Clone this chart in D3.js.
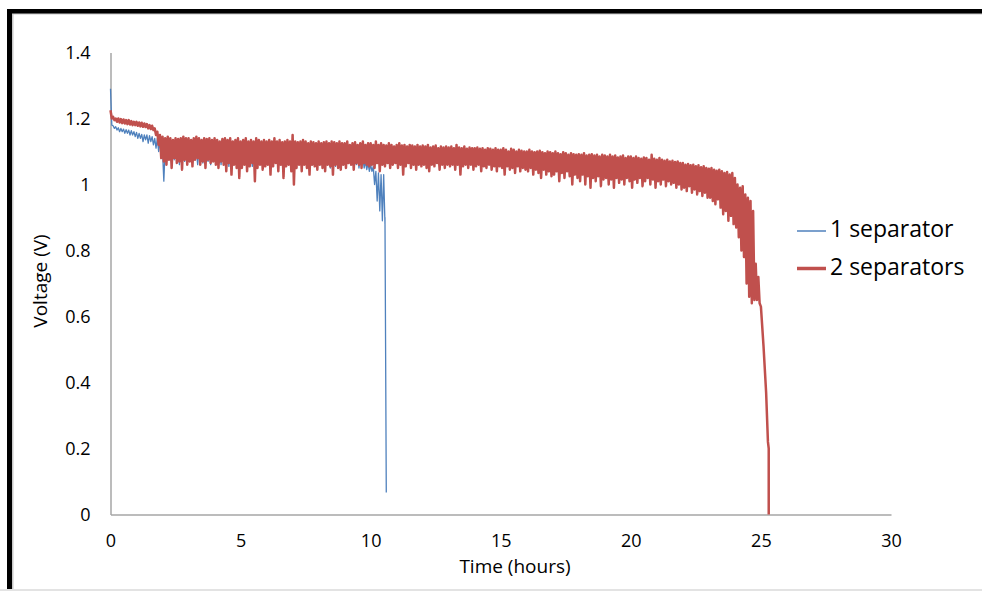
<!DOCTYPE html>
<html lang="en">
<head>
<meta charset="UTF-8">
<title>Voltage vs time</title>
<script src="https://d3js.org/d3.v7.min.js"></script>
<style>
  body { margin: 0; background: #fff; }
  svg { display: block; font-family: "Open Sans", sans-serif; }
</style>
</head>
<body>
<div id="chart"></div>
<script>
// ---- data ----
// every 0.1 h the trace swings between a high and a low reading (V)
const sampleStep = 0.1;

// 1 separator, t = 0.0 .. 10.5
const blueHigh = [
  1.29, 1.178, 1.175, 1.172, 1.17, 1.168, 1.166, 1.165, 1.163, 1.16,
  1.158, 1.155, 1.152, 1.15, 1.15, 1.148, 1.145, 1.14, 1.14, 1.13,
  1.10, 1.11, 1.105, 1.11, 1.10, 1.108, 1.105, 1.11, 1.10, 1.105,
  1.105, 1.11, 1.10, 1.108, 1.105, 1.11, 1.10, 1.105, 1.108, 1.10,
  1.105, 1.10, 1.108, 1.104, 1.10, 1.106, 1.10, 1.104, 1.10, 1.105,
  1.10, 1.105, 1.10, 1.098, 1.104, 1.10, 1.105, 1.10, 1.098, 1.102,
  1.10, 1.098, 1.104, 1.10, 1.097, 1.10, 1.102, 1.098, 1.10, 1.096,
  1.098, 1.10, 1.095, 1.098, 1.10, 1.094, 1.098, 1.095, 1.10, 1.096,
  1.095, 1.098, 1.094, 1.096, 1.092, 1.095, 1.098, 1.09, 1.094, 1.092,
  1.09, 1.085, 1.09, 1.08, 1.085, 1.08, 1.075, 1.08, 1.07, 1.065,
  1.06, 1.055, 1.04, 1.035, 1.03, 1.03
];
const blueLow = [
  1.18, 1.17, 1.165, 1.16, 1.16, 1.155, 1.155, 1.15, 1.15, 1.145,
  1.14, 1.14, 1.13, 1.135, 1.125, 1.13, 1.12, 1.11, 1.10, 1.09,
  1.01, 1.07, 1.08, 1.065, 1.075, 1.07, 1.06, 1.075, 1.07, 1.065,
  1.07, 1.065, 1.075, 1.06, 1.07, 1.065, 1.075, 1.07, 1.06, 1.07,
  1.065, 1.07, 1.06, 1.07, 1.065, 1.055, 1.07, 1.065, 1.06, 1.07,
  1.06, 1.065, 1.07, 1.06, 1.055, 1.065, 1.06, 1.07, 1.06, 1.065,
  1.065, 1.06, 1.055, 1.065, 1.06, 1.07, 1.06, 1.055, 1.065, 1.06,
  1.06, 1.065, 1.06, 1.055, 1.065, 1.06, 1.05, 1.06, 1.065, 1.055,
  1.06, 1.055, 1.065, 1.06, 1.05, 1.06, 1.055, 1.06, 1.05, 1.06,
  1.06, 1.065, 1.06, 1.055, 1.06, 1.05, 1.055, 1.05, 1.045, 1.04,
  1.04, 1.0, 0.95, 0.92, 0.89, 0.88
];
const blueTailTimes = [10.55, 10.6];
const blueTailValues = [0.90, 0.067];

// 2 separators, t = 0.0 .. 24.9
const redHigh = [
  1.225, 1.205, 1.20, 1.20, 1.198, 1.197, 1.195, 1.195, 1.192, 1.19,
  1.19, 1.188, 1.187, 1.185, 1.183, 1.18, 1.178, 1.17, 1.16, 1.15,
  1.145, 1.14, 1.145, 1.14, 1.135, 1.14, 1.138, 1.14, 1.145, 1.14,
  1.14, 1.135, 1.14, 1.145, 1.14, 1.135, 1.14, 1.138, 1.14, 1.135,
  1.14, 1.135, 1.13, 1.138, 1.14, 1.135, 1.14, 1.13, 1.135, 1.14,
  1.13, 1.135, 1.14, 1.13, 1.135, 1.13, 1.14, 1.135, 1.13, 1.135,
  1.13, 1.135, 1.13, 1.14, 1.13, 1.135, 1.128, 1.13, 1.135, 1.13,
  1.15, 1.13, 1.128, 1.13, 1.135, 1.13, 1.125, 1.13, 1.128, 1.125,
  1.13, 1.125, 1.128, 1.13, 1.125, 1.13, 1.128, 1.125, 1.13, 1.125,
  1.125, 1.13, 1.12, 1.125, 1.128, 1.12, 1.125, 1.13, 1.12, 1.125,
  1.125, 1.12, 1.13, 1.12, 1.125, 1.12, 1.118, 1.125, 1.12, 1.115,
  1.12, 1.125, 1.118, 1.12, 1.115, 1.12, 1.118, 1.115, 1.12, 1.115,
  1.118, 1.115, 1.12, 1.112, 1.115, 1.118, 1.11, 1.115, 1.112, 1.115,
  1.112, 1.115, 1.11, 1.12, 1.112, 1.11, 1.115, 1.108, 1.112, 1.11,
  1.11, 1.112, 1.108, 1.11, 1.105, 1.11, 1.108, 1.105, 1.11, 1.105,
  1.105, 1.11, 1.105, 1.10, 1.108, 1.105, 1.10, 1.105, 1.102, 1.10,
  1.10, 1.105, 1.10, 1.098, 1.10, 1.102, 1.098, 1.095, 1.10, 1.098,
  1.095, 1.10, 1.095, 1.092, 1.098, 1.095, 1.09, 1.095, 1.092, 1.09,
  1.092, 1.09, 1.095, 1.088, 1.09, 1.092, 1.088, 1.09, 1.085, 1.09,
  1.088, 1.085, 1.09, 1.085, 1.088, 1.082, 1.085, 1.088, 1.08, 1.085,
  1.085, 1.08, 1.085, 1.08, 1.078, 1.082, 1.08, 1.075, 1.09, 1.078,
  1.075, 1.08, 1.075, 1.072, 1.075, 1.07, 1.072, 1.068, 1.07, 1.065,
  1.065, 1.06, 1.062, 1.058, 1.06, 1.055, 1.058, 1.052, 1.055, 1.05,
  1.048, 1.05, 1.045, 1.042, 1.045, 1.04, 1.035, 1.038, 1.03, 1.035,
  1.02, 1.00, 0.99, 0.995, 0.97, 0.96, 0.95, 0.92, 0.76, 0.72
];
const redLow = [
  1.20, 1.195, 1.19, 1.188, 1.186, 1.185, 1.183, 1.182, 1.18, 1.18,
  1.178, 1.176, 1.175, 1.174, 1.17, 1.168, 1.165, 1.15, 1.12, 1.08,
  1.07, 1.06, 1.075, 1.05, 1.08, 1.065, 1.07, 1.045, 1.075, 1.06,
  1.07, 1.055, 1.075, 1.08, 1.06, 1.07, 1.05, 1.075, 1.065, 1.07,
  1.06, 1.05, 1.07, 1.06, 1.04, 1.065, 1.03, 1.06, 1.05, 1.02,
  1.05, 1.06, 1.04, 1.055, 1.065, 1.01, 1.05, 1.06, 1.045, 1.055,
  1.06, 1.03, 1.055, 1.065, 1.04, 1.06, 1.02, 1.055, 1.06, 1.04,
  1.00, 1.05, 1.06, 1.04, 1.06, 1.05, 1.03, 1.06, 1.055, 1.045,
  1.06, 1.05, 1.04, 1.06, 1.055, 1.03, 1.06, 1.05, 1.045, 1.06,
  1.05, 1.065, 1.06, 1.045, 1.065, 1.06, 1.05, 1.065, 1.06, 1.055,
  1.06, 1.05, 1.065, 1.04, 1.06, 1.055, 1.065, 1.05, 1.06, 1.065,
  1.05, 1.06, 1.03, 1.055, 1.065, 1.05, 1.06, 1.045, 1.06, 1.055,
  1.06, 1.05, 1.04, 1.06, 1.055, 1.065, 1.045, 1.06, 1.05, 1.06,
  1.055, 1.06, 1.045, 1.06, 1.03, 1.055, 1.06, 1.05, 1.06, 1.045,
  1.055, 1.06, 1.04, 1.055, 1.05, 1.06, 1.045, 1.055, 1.04, 1.055,
  1.05, 1.03, 1.055, 1.045, 1.05, 1.035, 1.055, 1.04, 1.05, 1.045,
  1.04, 1.05, 1.03, 1.045, 1.035, 1.02, 1.045, 1.03, 1.04, 1.025,
  1.03, 1.04, 1.01, 1.035, 1.02, 1.04, 1.025, 1.00, 1.03, 1.02,
  1.01, 1.03, 1.00, 1.025, 0.99, 1.02, 1.01, 1.025, 0.995, 1.015,
  1.02, 1.00, 1.015, 0.99, 1.02, 1.005, 1.015, 1.00, 1.02, 1.01,
  0.99, 1.015, 1.005, 1.02, 0.995, 1.01, 1.02, 1.00, 1.015, 0.99,
  1.01, 1.00, 1.015, 0.995, 1.01, 1.00, 1.005, 0.99, 1.00, 0.985,
  0.99, 0.98, 0.995, 0.975, 0.985, 0.97, 0.98, 0.965, 0.975, 0.96,
  0.96, 0.95, 0.94, 0.955, 0.93, 0.91, 0.92, 0.89, 0.905, 0.88,
  0.87, 0.84, 0.80, 0.78, 0.70, 0.66, 0.64, 0.65, 0.65, 0.64
];
const redTailTimes = [25.0, 25.1, 25.2, 25.27, 25.3, 25.3];
const redTailValues = [0.63, 0.51, 0.37, 0.22, 0.20, 0.0];

const xTicks = [0, 5, 10, 15, 20, 25, 30];
const yTicks = [0, 0.2, 0.4, 0.6, 0.8, 1, 1.2, 1.4];
const seriesNames = ["1 separator", "2 separators"];
const seriesColors = ["#4f81bd", "#c0504d"];

// high and low readings in turn, then the final drop
function toPoints(high, low, tailTimes, tailValues) {
  const pts = [];
  high.forEach((h, i) => {
    pts.push({ t: i * sampleStep, v: h });
    pts.push({ t: i * sampleStep + sampleStep / 2, v: low[i] });
  });
  tailTimes.forEach((t, i) => pts.push({ t: t, v: tailValues[i] }));
  return pts;
}
const bluePoints = toPoints(blueHigh, blueLow, blueTailTimes, blueTailValues);
const redPoints = toPoints(redHigh, redLow, redTailTimes, redTailValues);

// ---- drawing ----
const width = 982, height = 591;
const svg = d3.select("#chart").append("svg")
  .attr("width", width)
  .attr("height", height);

// frame around the picture
svg.append("rect").attr("x", 0).attr("y", 589).attr("width", width).attr("height", 2).attr("fill", "#e3e3e3");
svg.append("rect").attr("x", 12).attr("y", 13).attr("width", width).attr("height", 1.5).attr("fill", "#c8c8c8");
svg.append("rect").attr("x", 12).attr("y", 13).attr("width", 1.5).attr("height", 576).attr("fill", "#c8c8c8");
svg.append("rect").attr("x", 7).attr("y", 9).attr("width", width).attr("height", 4.5).attr("fill", "#000");
svg.append("rect").attr("x", 7).attr("y", 9).attr("width", 5).attr("height", 580).attr("fill", "#000");

const x = d3.scaleLinear().domain([0, 30]).range([110.5, 891]);
const y = d3.scaleLinear().domain([0, 1.4]).range([514.5, 52.5]);

// axes
const xAxis = svg.append("g")
  .attr("transform", `translate(0,${y(0)})`)
  .call(d3.axisBottom(x).tickValues(xTicks).tickSize(0).tickPadding(27).tickFormat(d3.format("d")));
const yAxis = svg.append("g")
  .attr("transform", `translate(${x(0)},0)`)
  .call(d3.axisLeft(y).tickValues(yTicks).tickSize(0).tickPadding(20).tickFormat(d => String(d)));

[xAxis, yAxis].forEach(a => {
  a.select(".domain").attr("stroke", "#a6a6a6").attr("stroke-width", 1.5);
  a.selectAll("text").attr("font-size", 18).attr("fill", "#000").attr("font-family", "Open Sans");
});
xAxis.selectAll("text").attr("dy", "0.32em");

// axis titles
svg.append("text")
  .attr("x", 515).attr("y", 568)
  .attr("text-anchor", "middle").attr("dominant-baseline", "middle")
  .attr("font-size", 19)
  .text("Time (hours)");
svg.append("text")
  .attr("transform", "translate(42,281) rotate(-90)")
  .attr("text-anchor", "middle").attr("dominant-baseline", "middle")
  .attr("font-size", 19)
  .text("Voltage (V)");

// series
const line = d3.line().x(d => x(d.t)).y(d => y(d.v));
svg.append("path").datum(bluePoints)
  .attr("d", line).attr("fill", "none")
  .attr("stroke", seriesColors[0]).attr("stroke-width", 1.3)
  .attr("stroke-linejoin", "round");
svg.append("path").datum(redPoints)
  .attr("d", line).attr("fill", "none")
  .attr("stroke", seriesColors[1]).attr("stroke-width", 2.5)
  .attr("stroke-linejoin", "round");

// legend
const legend = svg.append("g").attr("transform", "translate(797,231)");
seriesNames.forEach((name, i) => {
  const g = legend.append("g").attr("transform", `translate(0,${i * 37.5})`);
  g.append("line").attr("x1", 0).attr("x2", 29).attr("y1", 0).attr("y2", 0)
    .attr("stroke", seriesColors[i]).attr("stroke-width", i === 0 ? 1.5 : 3.5);
  g.append("text").attr("x", 33).attr("y", 0)
    .attr("dominant-baseline", "middle")
    .attr("font-size", 23)
    .text(name);
});
</script>
</body>
</html>
